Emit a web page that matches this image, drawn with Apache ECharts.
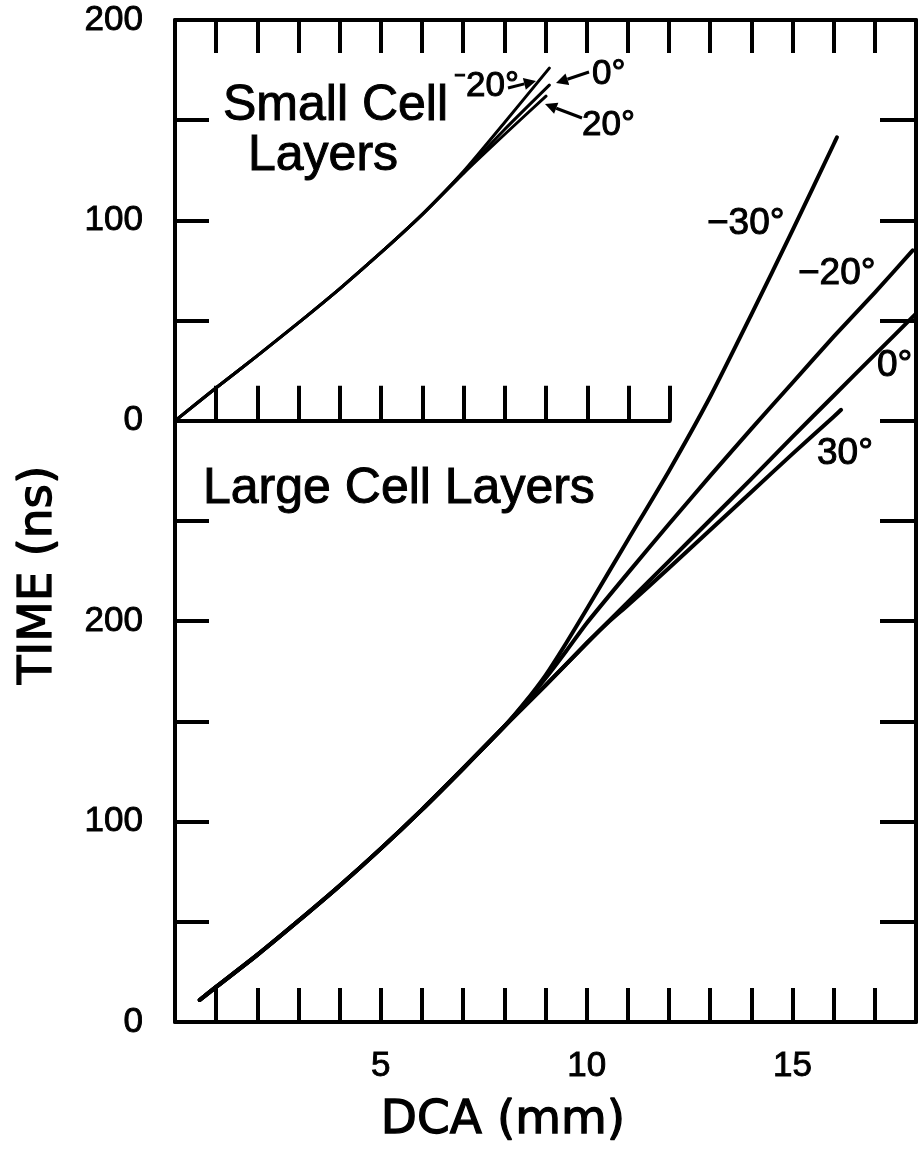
<!DOCTYPE html>
<html><head><meta charset="utf-8">
<script src="https://cdn.jsdelivr.net/npm/echarts@6/dist/echarts.min.js"></script>
<style>html,body{margin:0;padding:0;background:#fff}#c{width:919px;height:1153px}</style>
</head><body><div id="c"></div>
<script>
// ---- Data (DCA in mm, TIME in ns) ----
// Large cell layers: shared lower part, then branches by angle
const largeCommon = [[0.6,11],[1,17.5],[2,33.5],[3,50.5],[4,68],[5,86.5],[6,106],[7,126.5],[8,147.5]];
const largeM30 = [[8.5,159.5],[9,173],[9.5,189],[10,206],[11,240.5],[12,275],[13,312],[14,353],[15,395],[16,438],[16.08,441.5]];
const largeM20 = [[8.5,159],[9,171.5],[9.5,185],[10,199],[11,224],[12,248.5],[13,272.5],[14,296],[15,319],[16,342],[17,364],[17.92,385]];
const largeP0  = [[9,168],[10,189],[11,209.5],[12,230],[13,250.5],[14,271],[15,292],[16,312.5],[17,333],[18,353.5]];
const largeP30 = [[9,168],[10,189],[10.5,199],[11,208],[12,226.5],[13,245.5],[14,264.5],[15,283.5],[16,302],[16.18,305.5]];
// Small cell layers (inset)
const smallCommon = [[0,0],[1,16.5],[2,32.5],[3,49],[4,66],[5,84],[6,103]];
const smallM20 = [[7,124.5],[8,149],[9.08,176]];
const smallP0  = [[7,124],[8,145.5],[9.08,167.5]];
const smallP20 = [[7,123.5],[8,143],[9,162]];
// Tick labels
const xLabels = [5, 10, 15];
const yLabelsLarge = [0, 100, 200];
const yLabelsSmall = [0, 100, 200];

const chart = echarts.init(document.getElementById('c'), null, {renderer:'canvas'});
const BLACK = '#000';
const axisLineS = {show:true, onZero:false, lineStyle:{color:BLACK, width:4}};
const tickS = (len)=>({show:true, inside:true, length:len, lineStyle:{color:BLACK, width:4}});
const lblFont = {fontFamily:'Liberation Sans', fontSize:35, color:BLACK, textBorderColor:BLACK, textBorderWidth:0.9};

function lineSeries(name, data, xi, yi, w){
  return {name, type:'line', data, xAxisIndex:xi, yAxisIndex:yi, showSymbol:false, symbol:'none',
    smooth:0.2, lineStyle:{color:BLACK, width:w, cap:'round', join:'round'},
    silent:true, animation:false, z:5};
}

function arrow(x1,y1,x2,y2){
  const ang = Math.atan2(y2-y1, x2-x1), L=12, W=6;
  const bx = x2 - L*Math.cos(ang), by = y2 - L*Math.sin(ang);
  const px = -Math.sin(ang)*W, py = Math.cos(ang)*W;
  return [
    {type:'line', shape:{x1,y1,x2:bx,y2:by}, style:{stroke:BLACK, lineWidth:3}},
    {type:'polygon', shape:{points:[[x2,y2],[bx+px,by+py],[bx-px,by-py]]}, style:{fill:BLACK}}
  ];
}
function txt(x,y,text,size,family,align,rot,bw){
  return {type:'text', x, y, rotation:rot||0, style:{text, fill:BLACK, stroke:BLACK, lineWidth:bw||1.0,
    font: size+'px "'+family+'"', align:align||'left', verticalAlign:'middle'}};
}

chart.setOption({
  animation:false,
  backgroundColor:'#fff',
  grid:[
    {left:175, top:20, width:742, height:1002},
    {left:175, top:20, width:494.7, height:400.8}
  ],
  xAxis:[
    {gridIndex:0, type:'value', min:0, max:18, interval:1, position:'bottom',
     axisLine:axisLineS, axisTick:tickS(34), splitLine:{show:false},
     axisLabel:Object.assign({margin:27, formatter:v=>xLabels.includes(v)?String(v):''}, lblFont)},
    {gridIndex:0, type:'value', min:0, max:18, interval:1, position:'top',
     axisLine:axisLineS, axisTick:tickS(33), splitLine:{show:false}, axisLabel:{show:false}},
    {gridIndex:1, type:'value', min:0, max:12, interval:1, position:'bottom',
     axisLine:axisLineS, axisTick:tickS(35), splitLine:{show:false}, axisLabel:{show:false}}
  ],
  yAxis:[
    {gridIndex:0, type:'value', min:0, max:500, interval:50, position:'left',
     axisLine:axisLineS, axisTick:tickS(34), splitLine:{show:false},
     axisLabel:Object.assign({margin:32, formatter:v=>yLabelsLarge.includes(v)?String(v):''}, lblFont)},
    {gridIndex:0, type:'value', min:0, max:500, interval:50, position:'right',
     axisLine:axisLineS, axisTick:tickS(36), splitLine:{show:false}, axisLabel:{show:false}},
    {gridIndex:1, type:'value', min:0, max:200, interval:50, position:'left',
     axisLine:{show:false}, axisTick:{show:false}, splitLine:{show:false},
     axisLabel:Object.assign({margin:32, formatter:v=>yLabelsSmall.includes(v)?String(v):''}, lblFont)}
  ],
  series:[
    lineSeries('-30°', largeCommon.concat(largeM30), 0, 0, 4),
    lineSeries('-20°', largeCommon.concat(largeM20), 0, 0, 4),
    lineSeries('0°',   largeCommon.concat(largeP0), 0, 0, 4),
    lineSeries('30°',  largeCommon.concat(largeP30), 0, 0, 4),
    lineSeries('small -20°', smallCommon.concat(smallM20), 2, 2, 3),
    lineSeries('small 0°',   smallCommon.concat(smallP0), 2, 2, 3),
    lineSeries('small 20°',  smallCommon.concat(smallP20), 2, 2, 3)
  ],
  graphic:[
    txt(39, 575, 'TIME (ns)', 47, 'DejaVu Sans', 'center', Math.PI/2, 1.3),
    txt(503, 1121, 'DCA (mm)', 47, 'DejaVu Sans', 'center', 0, 1.3),
    txt(223, 106, 'Small Cell', 50, 'Liberation Sans'),
    txt(248, 156, 'Layers', 50, 'Liberation Sans'),
    txt(203, 489, 'Large Cell Layers', 50, 'Liberation Sans'),
    txt(707, 224, '\u221230°', 37, 'Liberation Sans'),
    txt(798, 274, '\u221220°', 37, 'Liberation Sans'),
    txt(877, 366, '0°', 37, 'Liberation Sans'),
    txt(817, 454, '30°', 37, 'Liberation Sans'),
    txt(454, 86, '\u207B20°', 35, 'Liberation Sans'),
    txt(592, 74, '0°', 35, 'Liberation Sans'),
    txt(582, 125, '20°', 35, 'Liberation Sans')
  ].concat(arrow(508,88,536,81), arrow(589,72,556,83), arrow(582,118,545,104))
});
</script></body></html>
